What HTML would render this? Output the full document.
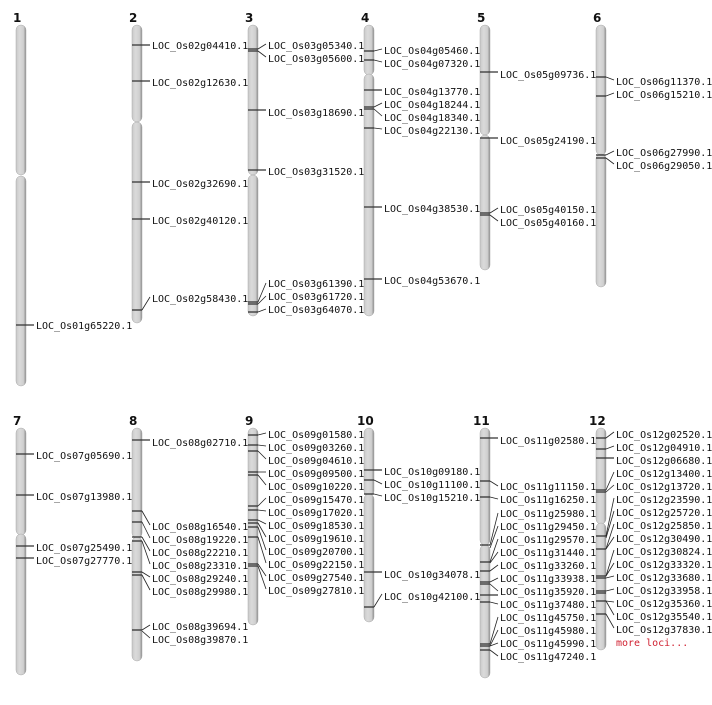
<!DOCTYPE html>
<html><head><meta charset="utf-8"><style>
body{margin:0;background:#fff}
text{font-family:"DejaVu Sans Mono","Liberation Mono",monospace;font-size:10px;fill:#111}
.n{font-family:"DejaVu Sans","Liberation Sans",sans-serif;font-weight:bold;font-size:12px}
.c{fill:url(#g);stroke:#aaa;stroke-width:.5}
.t{stroke:#333;stroke-width:1.3}
.l{stroke:#222;stroke-width:.8}
</style></head><body>
<svg width="712" height="700" xmlns="http://www.w3.org/2000/svg">
<defs><linearGradient id="g" x1="0" x2="1"><stop offset="0" stop-color="#c8c8c8"/><stop offset=".35" stop-color="#dadada"/><stop offset=".75" stop-color="#d0d0d0"/><stop offset="1" stop-color="#8a8a8a"/></linearGradient></defs>
<!-- numbers -->
<text class="n" x="13" y="22">1</text><text class="n" x="129" y="22">2</text><text class="n" x="245" y="22">3</text><text class="n" x="361" y="22">4</text><text class="n" x="477" y="22">5</text><text class="n" x="593" y="22">6</text>
<text class="n" x="13" y="425">7</text><text class="n" x="129" y="425">8</text><text class="n" x="245" y="425">9</text><text class="n" x="357" y="425">10</text><text class="n" x="473" y="425">11</text><text class="n" x="589" y="425">12</text>
<!-- chromosomes -->
<rect class="c" x="16" y="25" width="10" height="150" rx="5"/><rect class="c" x="16" y="176" width="10" height="210" rx="5"/>
<rect class="c" x="132" y="25" width="10" height="97" rx="5"/><rect class="c" x="132" y="122" width="10" height="201" rx="5"/>
<rect class="c" x="248" y="25" width="10" height="150" rx="5"/><rect class="c" x="248" y="175" width="10" height="141" rx="5"/>
<rect class="c" x="364" y="25" width="10" height="50" rx="5"/><rect class="c" x="364" y="74" width="10" height="242" rx="5"/>
<rect class="c" x="480" y="25" width="10" height="110" rx="5"/><rect class="c" x="480" y="135" width="10" height="135" rx="5"/>
<rect class="c" x="596" y="25" width="10" height="130" rx="5"/><rect class="c" x="596" y="154" width="10" height="133" rx="5"/>
<rect class="c" x="16" y="428" width="10" height="107" rx="5"/><rect class="c" x="16" y="534" width="10" height="141" rx="5"/>
<rect class="c" x="132" y="428" width="10" height="110" rx="5"/><rect class="c" x="132" y="537" width="10" height="124" rx="5"/>
<rect class="c" x="248" y="428" width="10" height="197" rx="5"/>
<rect class="c" x="364" y="428" width="10" height="68" rx="5"/><rect class="c" x="364" y="494" width="10" height="128" rx="5"/>
<rect class="c" x="480" y="428" width="10" height="117" rx="5"/><rect class="c" x="480" y="545" width="10" height="133" rx="5"/>
<rect class="c" x="596" y="428" width="10" height="96" rx="5"/><rect class="c" x="596" y="523" width="10" height="127" rx="5"/>
<!-- chr1 -->
<line class="t" x1="16" y1="325" x2="34" y2="325"/><text x="36" y="329">LOC_Os01g65220.1</text>
<!-- chr2 -->
<g class="t"><line x1="132" y1="45" x2="150" y2="45"/><line x1="132" y1="81" x2="150" y2="81"/><line x1="132" y1="182" x2="150" y2="182"/><line x1="132" y1="219" x2="150" y2="219"/><line x1="132" y1="310" x2="142" y2="310"/></g>
<line class="l" x1="142" y1="310" x2="150" y2="297"/>
<text x="152" y="49">LOC_Os02g04410.1</text><text x="152" y="86">LOC_Os02g12630.1</text><text x="152" y="187">LOC_Os02g32690.1</text><text x="152" y="224">LOC_Os02g40120.1</text><text x="152" y="302">LOC_Os02g58430.1</text>
<!-- chr3 -->
<g class="t"><line x1="248" y1="49" x2="258" y2="49"/><line x1="248" y1="51" x2="258" y2="51"/><line x1="248" y1="110" x2="266" y2="110"/><line x1="248" y1="170" x2="266" y2="170"/><line x1="248" y1="302" x2="258" y2="302"/><line x1="248" y1="304" x2="258" y2="304"/><line x1="248" y1="312" x2="258" y2="312"/></g>
<g class="l"><line x1="258" y1="49" x2="266" y2="44"/><line x1="258" y1="51" x2="266" y2="57"/><line x1="258" y1="302" x2="266" y2="283"/><line x1="258" y1="304" x2="266" y2="296"/><line x1="258" y1="312" x2="266" y2="309"/></g>
<text x="268" y="49">LOC_Os03g05340.1</text><text x="268" y="62">LOC_Os03g05600.1</text><text x="268" y="116">LOC_Os03g18690.1</text><text x="268" y="175">LOC_Os03g31520.1</text><text x="268" y="287">LOC_Os03g61390.1</text><text x="268" y="300">LOC_Os03g61720.1</text><text x="268" y="313">LOC_Os03g64070.1</text>
<!-- chr4 -->
<g class="t"><line x1="364" y1="51" x2="374" y2="51"/><line x1="364" y1="60" x2="374" y2="60"/><line x1="364" y1="90" x2="382" y2="90"/><line x1="364" y1="107" x2="374" y2="107"/><line x1="364" y1="109" x2="374" y2="109"/><line x1="364" y1="128" x2="374" y2="128"/><line x1="364" y1="207" x2="382" y2="207"/><line x1="364" y1="279" x2="382" y2="279"/></g>
<g class="l"><line x1="374" y1="51" x2="382" y2="49"/><line x1="374" y1="60" x2="382" y2="62"/><line x1="374" y1="107" x2="382" y2="103"/><line x1="374" y1="109" x2="382" y2="116"/><line x1="374" y1="128" x2="382" y2="129"/></g>
<text x="384" y="54">LOC_Os04g05460.1</text><text x="384" y="67">LOC_Os04g07320.1</text><text x="384" y="95">LOC_Os04g13770.1</text><text x="384" y="108">LOC_Os04g18244.1</text><text x="384" y="121">LOC_Os04g18340.1</text><text x="384" y="134">LOC_Os04g22130.1</text><text x="384" y="212">LOC_Os04g38530.1</text><text x="384" y="284">LOC_Os04g53670.1</text>
<!-- chr5 -->
<g class="t"><line x1="480" y1="72" x2="498" y2="72"/><line x1="480" y1="138" x2="498" y2="138"/><line x1="480" y1="213" x2="490" y2="213"/><line x1="480" y1="215" x2="490" y2="215"/></g>
<g class="l"><line x1="490" y1="213" x2="498" y2="208"/><line x1="490" y1="215" x2="498" y2="221"/></g>
<text x="500" y="78">LOC_Os05g09736.1</text><text x="500" y="144">LOC_Os05g24190.1</text><text x="500" y="213">LOC_Os05g40150.1</text><text x="500" y="226">LOC_Os05g40160.1</text>
<!-- chr6 -->
<g class="t"><line x1="596" y1="77" x2="606" y2="77"/><line x1="596" y1="96" x2="606" y2="96"/><line x1="596" y1="155" x2="606" y2="155"/><line x1="596" y1="158" x2="606" y2="158"/></g>
<g class="l"><line x1="606" y1="77" x2="614" y2="80"/><line x1="606" y1="96" x2="614" y2="93"/><line x1="606" y1="155" x2="614" y2="151"/><line x1="606" y1="158" x2="614" y2="164"/></g>
<text x="616" y="85">LOC_Os06g11370.1</text><text x="616" y="98">LOC_Os06g15210.1</text><text x="616" y="156">LOC_Os06g27990.1</text><text x="616" y="169">LOC_Os06g29050.1</text>
<!-- chr7 -->
<g class="t"><line x1="16" y1="454" x2="34" y2="454"/><line x1="16" y1="495" x2="34" y2="495"/><line x1="16" y1="546" x2="34" y2="546"/><line x1="16" y1="558" x2="34" y2="558"/></g>
<text x="36" y="459">LOC_Os07g05690.1</text><text x="36" y="500">LOC_Os07g13980.1</text><text x="36" y="551">LOC_Os07g25490.1</text><text x="36" y="564">LOC_Os07g27770.1</text>
<!-- chr8 -->
<g class="t"><line x1="132" y1="440" x2="150" y2="440"/><line x1="132" y1="511" x2="142" y2="511"/><line x1="132" y1="522" x2="142" y2="522"/><line x1="132" y1="537" x2="142" y2="537"/><line x1="132" y1="541" x2="142" y2="541"/><line x1="132" y1="572" x2="142" y2="572"/><line x1="132" y1="575" x2="142" y2="575"/><line x1="132" y1="630" x2="142" y2="630"/></g>
<g class="l"><line x1="142" y1="511" x2="150" y2="525"/><line x1="142" y1="522" x2="150" y2="538"/><line x1="142" y1="537" x2="150" y2="551"/><line x1="142" y1="541" x2="150" y2="564"/><line x1="142" y1="572" x2="150" y2="577"/><line x1="142" y1="575" x2="150" y2="590"/><line x1="142" y1="630" x2="150" y2="625"/><line x1="142" y1="631" x2="150" y2="638"/></g>
<text x="152" y="446">LOC_Os08g02710.1</text><text x="152" y="530">LOC_Os08g16540.1</text><text x="152" y="543">LOC_Os08g19220.1</text><text x="152" y="556">LOC_Os08g22210.1</text><text x="152" y="569">LOC_Os08g23310.1</text><text x="152" y="582">LOC_Os08g29240.1</text><text x="152" y="595">LOC_Os08g29980.1</text><text x="152" y="630">LOC_Os08g39694.1</text><text x="152" y="643">LOC_Os08g39870.1</text>
<!-- chr9 -->
<g class="t"><line x1="248" y1="435" x2="258" y2="435"/><line x1="248" y1="445" x2="258" y2="445"/><line x1="248" y1="451" x2="258" y2="451"/><line x1="248" y1="472" x2="258" y2="472"/><line x1="248" y1="475" x2="258" y2="475"/><line x1="248" y1="506" x2="258" y2="506"/><line x1="248" y1="510" x2="258" y2="510"/><line x1="248" y1="520" x2="258" y2="520"/><line x1="248" y1="523" x2="258" y2="523"/><line x1="248" y1="527" x2="258" y2="527"/><line x1="248" y1="537" x2="258" y2="537"/><line x1="248" y1="564" x2="258" y2="564"/><line x1="248" y1="566" x2="258" y2="566"/></g>
<g class="l"><line x1="258" y1="435" x2="266" y2="433"/><line x1="258" y1="445" x2="266" y2="446"/><line x1="258" y1="451" x2="266" y2="459"/><line x1="258" y1="472" x2="266" y2="472"/><line x1="258" y1="475" x2="266" y2="485"/><line x1="258" y1="506" x2="266" y2="498"/><line x1="258" y1="510" x2="266" y2="511"/><line x1="258" y1="520" x2="266" y2="524"/><line x1="258" y1="523" x2="266" y2="537"/><line x1="258" y1="527" x2="266" y2="550"/><line x1="258" y1="537" x2="266" y2="563"/><line x1="258" y1="564" x2="266" y2="576"/><line x1="258" y1="566" x2="266" y2="589"/></g>
<text x="268" y="438">LOC_Os09g01580.1</text><text x="268" y="451">LOC_Os09g03260.1</text><text x="268" y="464">LOC_Os09g04610.1</text><text x="268" y="477">LOC_Os09g09500.1</text><text x="268" y="490">LOC_Os09g10220.1</text><text x="268" y="503">LOC_Os09g15470.1</text><text x="268" y="516">LOC_Os09g17020.1</text><text x="268" y="529">LOC_Os09g18530.1</text><text x="268" y="542">LOC_Os09g19610.1</text><text x="268" y="555">LOC_Os09g20700.1</text><text x="268" y="568">LOC_Os09g22150.1</text><text x="268" y="581">LOC_Os09g27540.1</text><text x="268" y="594">LOC_Os09g27810.1</text>
<!-- chr10 -->
<g class="t"><line x1="364" y1="470" x2="382" y2="470"/><line x1="364" y1="480" x2="374" y2="480"/><line x1="364" y1="494" x2="374" y2="494"/><line x1="364" y1="572" x2="382" y2="572"/><line x1="364" y1="607" x2="374" y2="607"/></g>
<g class="l"><line x1="374" y1="480" x2="382" y2="484"/><line x1="374" y1="494" x2="382" y2="496"/><line x1="374" y1="607" x2="382" y2="594"/></g>
<text x="384" y="475">LOC_Os10g09180.1</text><text x="384" y="488">LOC_Os10g11100.1</text><text x="384" y="501">LOC_Os10g15210.1</text><text x="384" y="578">LOC_Os10g34078.1</text><text x="384" y="600">LOC_Os10g42100.1</text>
<!-- chr11 -->
<g class="t"><line x1="480" y1="438" x2="498" y2="438"/><line x1="480" y1="481" x2="490" y2="481"/><line x1="480" y1="497" x2="490" y2="497"/><line x1="480" y1="545" x2="490" y2="545"/><line x1="480" y1="562" x2="490" y2="562"/><line x1="480" y1="571" x2="490" y2="571"/><line x1="480" y1="582" x2="490" y2="582"/><line x1="480" y1="584" x2="490" y2="584"/><line x1="480" y1="595" x2="498" y2="595"/><line x1="480" y1="602" x2="490" y2="602"/><line x1="480" y1="644" x2="490" y2="644"/><line x1="480" y1="646" x2="490" y2="646"/><line x1="480" y1="650" x2="490" y2="650"/></g>
<g class="l"><line x1="490" y1="481" x2="498" y2="486"/><line x1="490" y1="497" x2="498" y2="499"/><line x1="490" y1="545" x2="498" y2="513"/><line x1="490" y1="548" x2="498" y2="526"/><line x1="490" y1="562" x2="498" y2="539"/><line x1="490" y1="563" x2="498" y2="552"/><line x1="490" y1="571" x2="498" y2="565"/><line x1="490" y1="582" x2="498" y2="578"/><line x1="490" y1="584" x2="498" y2="591"/><line x1="490" y1="602" x2="498" y2="604"/><line x1="490" y1="644" x2="498" y2="617"/><line x1="490" y1="646" x2="498" y2="630"/><line x1="490" y1="646" x2="498" y2="643"/><line x1="490" y1="650" x2="498" y2="656"/></g>
<text x="500" y="444">LOC_Os11g02580.1</text><text x="500" y="490">LOC_Os11g11150.1</text><text x="500" y="503">LOC_Os11g16250.1</text><text x="500" y="517">LOC_Os11g25980.1</text><text x="500" y="530">LOC_Os11g29450.1</text><text x="500" y="543">LOC_Os11g29570.1</text><text x="500" y="556">LOC_Os11g31440.1</text><text x="500" y="569">LOC_Os11g33260.1</text><text x="500" y="582">LOC_Os11g33938.1</text><text x="500" y="595">LOC_Os11g35920.1</text><text x="500" y="608">LOC_Os11g37480.1</text><text x="500" y="621">LOC_Os11g45750.1</text><text x="500" y="634">LOC_Os11g45980.1</text><text x="500" y="647">LOC_Os11g45990.1</text><text x="500" y="660">LOC_Os11g47240.1</text>
<!-- chr12 -->
<g class="t"><line x1="596" y1="438" x2="606" y2="438"/><line x1="596" y1="449" x2="606" y2="449"/><line x1="596" y1="458" x2="614" y2="458"/><line x1="596" y1="490" x2="606" y2="490"/><line x1="596" y1="492" x2="606" y2="492"/><line x1="596" y1="536" x2="606" y2="536"/><line x1="596" y1="549" x2="606" y2="549"/><line x1="596" y1="576" x2="606" y2="576"/><line x1="596" y1="578" x2="606" y2="578"/><line x1="596" y1="591" x2="606" y2="591"/><line x1="596" y1="593" x2="606" y2="593"/><line x1="596" y1="601" x2="606" y2="601"/><line x1="596" y1="614" x2="606" y2="614"/></g>
<g class="l"><line x1="606" y1="438" x2="614" y2="432"/><line x1="606" y1="449" x2="614" y2="446"/><line x1="606" y1="490" x2="614" y2="472"/><line x1="606" y1="492" x2="614" y2="485"/><line x1="606" y1="536" x2="614" y2="498"/><line x1="606" y1="538" x2="614" y2="511"/><line x1="606" y1="549" x2="614" y2="524"/><line x1="606" y1="549" x2="614" y2="537"/><line x1="606" y1="576" x2="614" y2="550"/><line x1="606" y1="576" x2="614" y2="563"/><line x1="606" y1="578" x2="614" y2="576"/><line x1="606" y1="591" x2="614" y2="589"/><line x1="606" y1="601" x2="614" y2="602"/><line x1="606" y1="614" x2="614" y2="628"/><line x1="606" y1="601" x2="614" y2="615"/></g>
<text x="616" y="438">LOC_Os12g02520.1</text><text x="616" y="451">LOC_Os12g04910.1</text><text x="616" y="464">LOC_Os12g06680.1</text><text x="616" y="477">LOC_Os12g13400.1</text><text x="616" y="490">LOC_Os12g13720.1</text><text x="616" y="503">LOC_Os12g23590.1</text><text x="616" y="516">LOC_Os12g25720.1</text><text x="616" y="529">LOC_Os12g25850.1</text><text x="616" y="542">LOC_Os12g30490.1</text><text x="616" y="555">LOC_Os12g30824.1</text><text x="616" y="568">LOC_Os12g33320.1</text><text x="616" y="581">LOC_Os12g33680.1</text><text x="616" y="594">LOC_Os12g33958.1</text><text x="616" y="607">LOC_Os12g35360.1</text><text x="616" y="620">LOC_Os12g35540.1</text><text x="616" y="633">LOC_Os12g37830.1</text>
<text x="616" y="646" style="fill:#d02030">more loci...</text>
</svg>
</body></html>
